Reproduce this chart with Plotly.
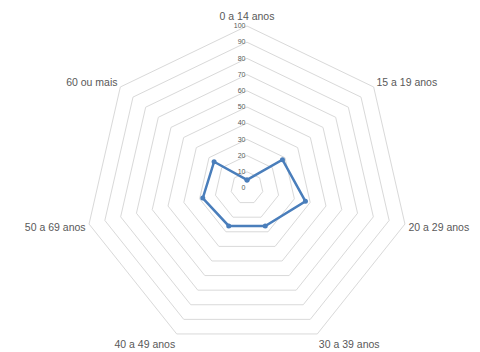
import plotly.graph_objects as go

categories = ["0 a 14 anos", "15 a 19 anos", "20 a 29 anos", "30 a 39 anos",
              "40 a 49 anos", "50 a 69 anos", "60 ou mais"]
values = [5, 28, 37, 26, 26, 28, 26]
radial_ticks = list(range(0, 101, 10))

fig = go.Figure()
fig.add_trace(go.Scatterpolar(
    r=values + values[:1],
    theta=categories + categories[:1],
    mode="lines+markers",
    line=dict(color="#4A7EBB", width=2.5),
    marker=dict(color="#4A7EBB", size=5),
    showlegend=False,
))

fig.update_layout(
    width=480, height=352,
    margin=dict(l=85, r=71, t=26, b=2),
    paper_bgcolor="white",
    font=dict(family="Liberation Sans, Arial, sans-serif", color="#595959"),
    polar=dict(
        bgcolor="white",
        gridshape="linear",
        domain=dict(x=[0, 1], y=[0, 1]),
        angularaxis=dict(
            rotation=90, direction="clockwise",
            showgrid=False,
            showline=True, linecolor="#D9D9D9", linewidth=1,
            ticks="outside", ticklen=1, tickcolor="rgba(0,0,0,0)",
            tickfont=dict(size=10.5, color="#595959"),
        ),
        radialaxis=dict(
            range=[0, 100],
            tickvals=radial_ticks,
            ticktext=[str(v) for v in radial_ticks],
            angle=90, tickangle=90,
            side="counterclockwise",
            showline=False,
            ticks="",
            gridcolor="#D9D9D9", gridwidth=1,
            tickfont=dict(size=7, color="#595959"),
        ),
    ),
)

fig.write_html("out.html")
